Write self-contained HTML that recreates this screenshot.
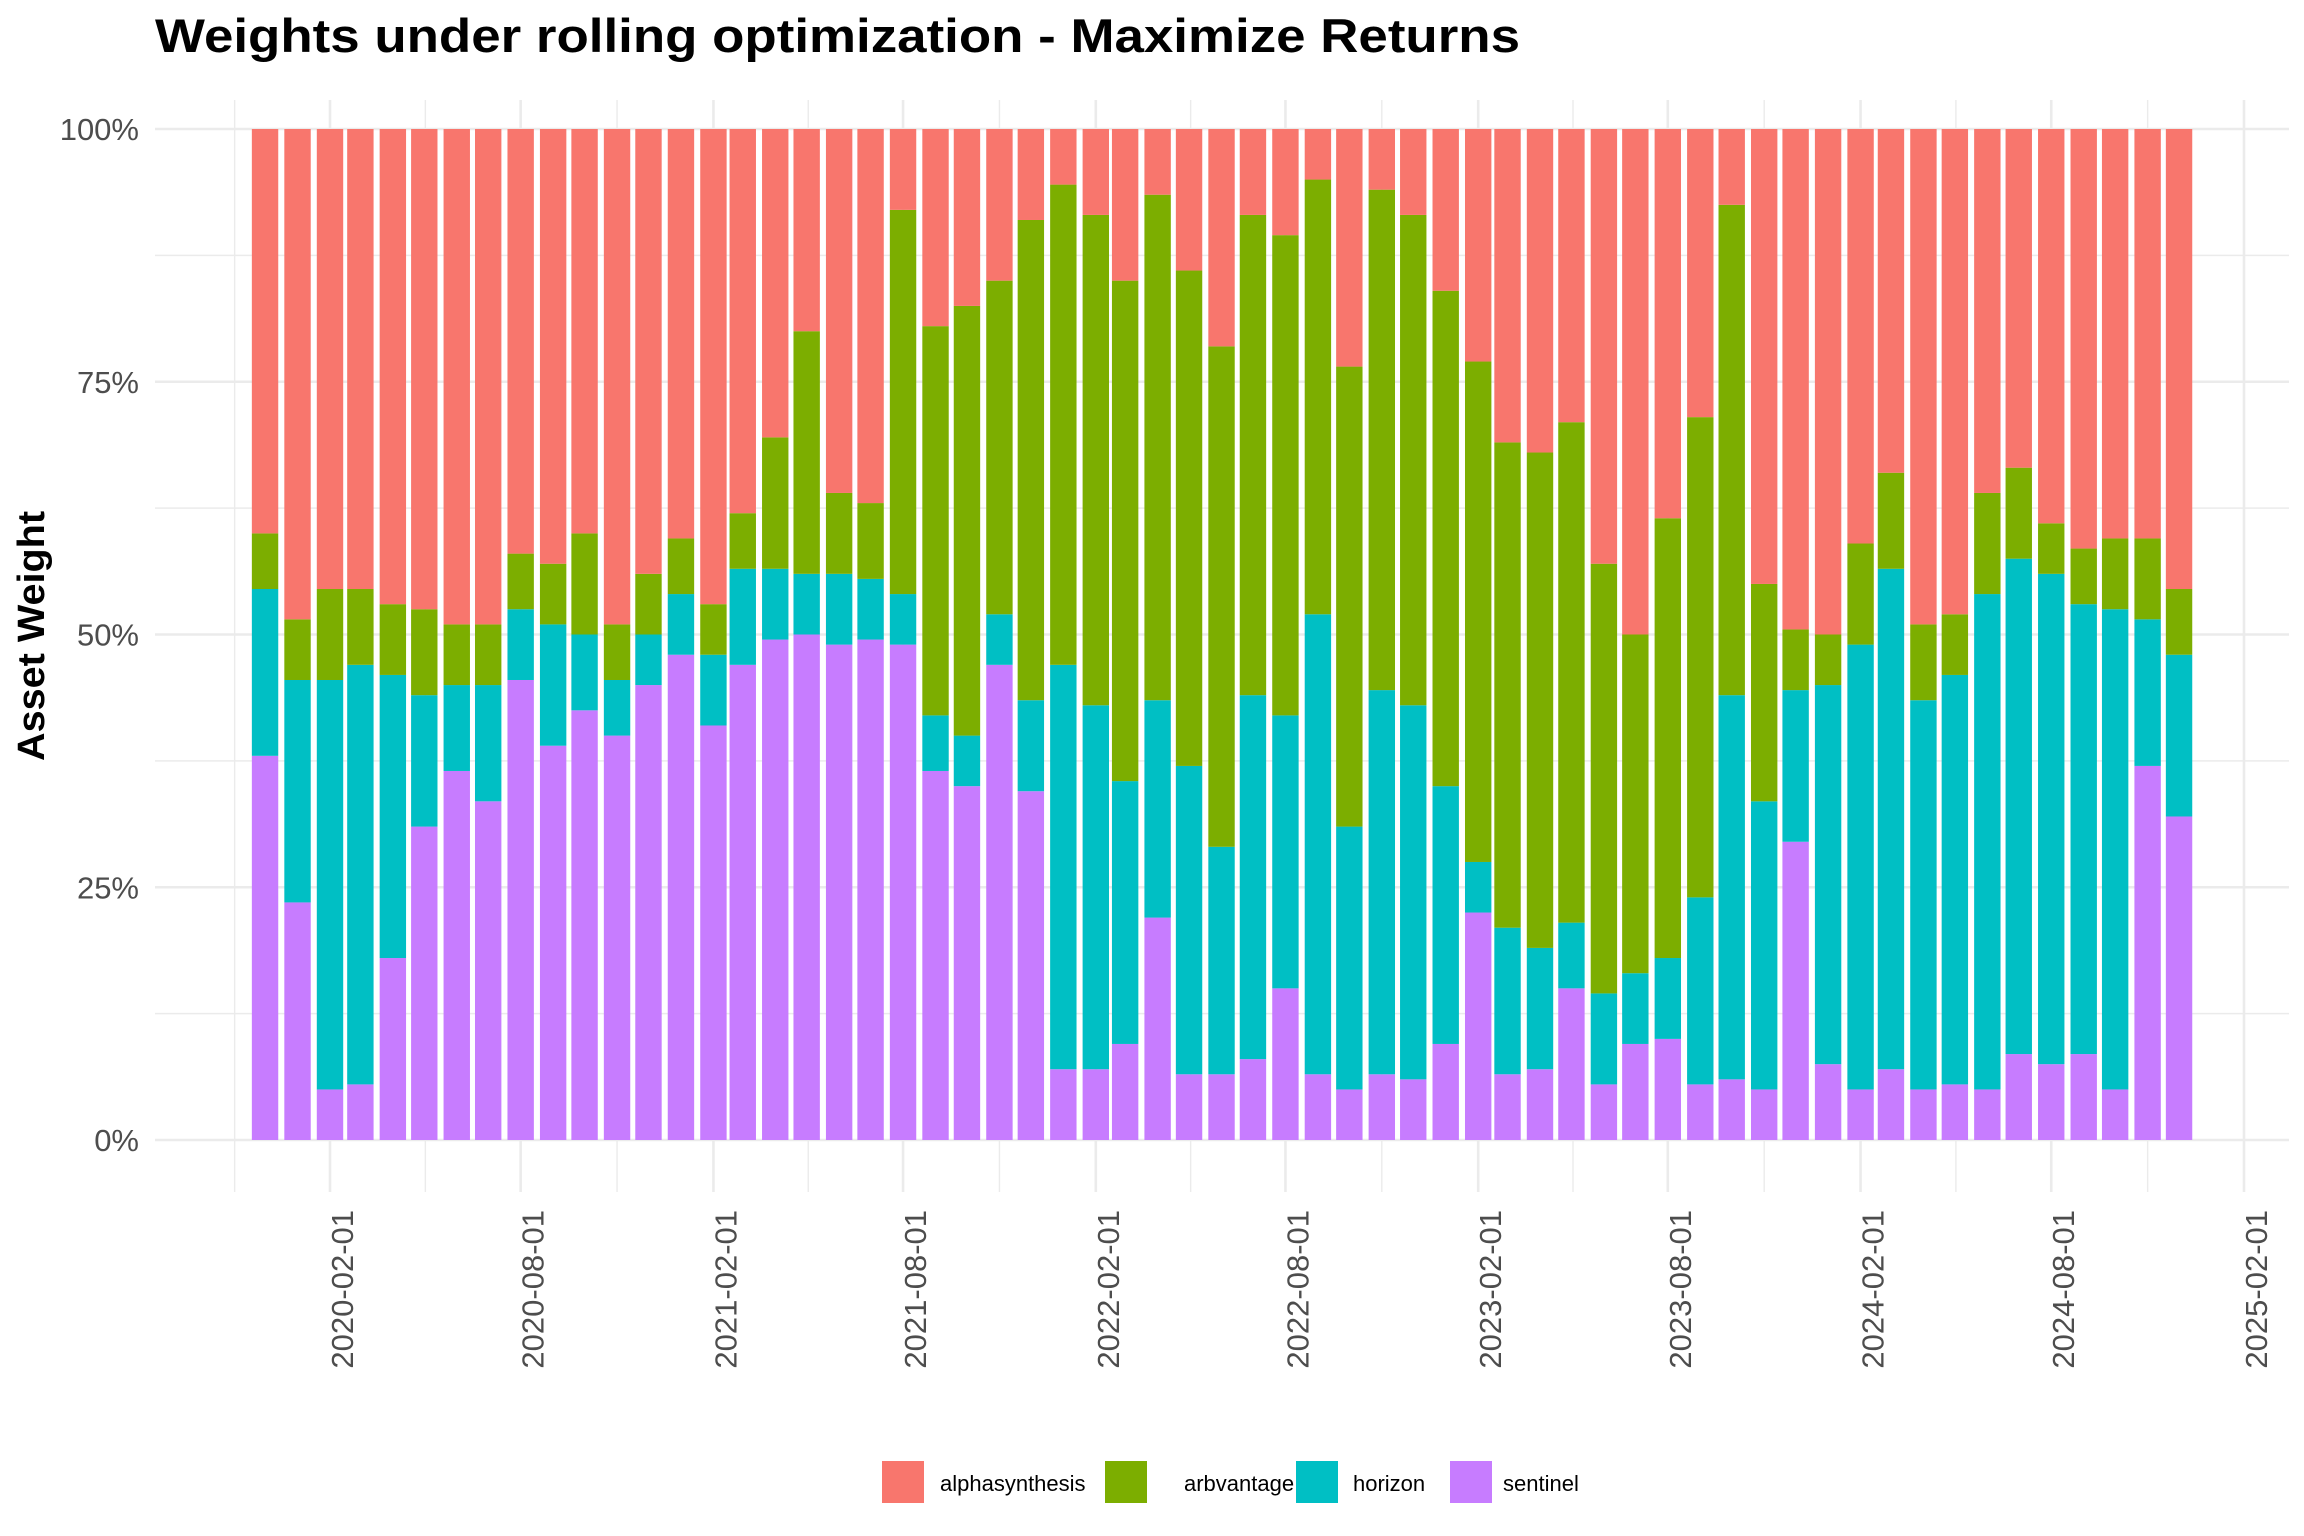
<!DOCTYPE html>
<html><head><meta charset="utf-8"><style>
html,body{margin:0;padding:0;background:#fff;}
svg{display:block;font-family:"Liberation Sans",Arial,sans-serif;}
</style></head><body>
<svg id="chart" width="2304" height="1536" viewBox="0 0 2304 1536" xmlns="http://www.w3.org/2000/svg">
<rect width="2304" height="1536" fill="#fff"/>
<text x="155" y="52" font-size="47" font-weight="bold" fill="#000" textLength="1365" lengthAdjust="spacingAndGlyphs">Weights under rolling optimization - Maximize Returns</text>
<g id="grid"></g>
<g id="bars"></g>
<g id="axes"></g>
<text transform="translate(44,636) rotate(-90)" text-anchor="middle" font-size="38" font-weight="bold" fill="#000" textLength="250" lengthAdjust="spacingAndGlyphs">Asset Weight</text>
<g>
<g><rect x="882" y="1461" width="42" height="42" fill="#F8766D"/><text x="940" y="1491" font-size="22" fill="#000">alphasynthesis</text></g>
<g><rect x="1105" y="1461" width="42" height="42" fill="#7CAE00"/><text x="1184" y="1491" font-size="22" fill="#000">arbvantage</text></g>
<g><rect x="1296" y="1461" width="42" height="42" fill="#00BFC4"/><text x="1353" y="1491" font-size="22" fill="#000">horizon</text></g>
<g><rect x="1450" y="1461" width="42" height="42" fill="#C77CFF"/><text x="1503" y="1491" font-size="22" fill="#000">sentinel</text></g>
</g>
</svg>
<script>
const startMonth = "2019-12";
const sentinel = [38,23.5,5,5.5,18,31,36.5,33.5,45.5,39,42.5,40,45,48,41,47,49.5,50,49,49.5,49,36.5,35,47,34.5,7,7,9.5,22,6.5,6.5,8,15,6.5,5,6.5,6,9.5,22.5,6.5,7,15,5.5,9.5,10,5.5,6,5,29.5,7.5,5,7,5,5.5,5,8.5,7.5,8.5,5,37,32];
const horizon = [16.5,22,40.5,41.5,28,13,8.5,11.5,7,12,7.5,5.5,5,6,7,9.5,7,6,7,6,5,5.5,5,5,9,40,36,26,21.5,30.5,22.5,36,27,45.5,26,38,37,25.5,5,14.5,12,6.5,9,7,8,18.5,38,28.5,15,37.5,44,49.5,38.5,40.5,49,49,48.5,44.5,47.5,14.5,16];
const arbvantage = [5.5,6,9,7.5,7,8.5,6,6,5.5,6,10,5.5,6,5.5,5,5.5,13,24,8,7.5,38,38.5,42.5,33,47.5,47.5,48.5,49.5,50,49,49.5,47.5,47.5,43,45.5,49.5,48.5,49,49.5,48,49,49.5,42.5,33.5,43.5,47.5,48.5,21.5,6,5,10,9.5,7.5,6,10,9,5,5.5,7,8,6.5];
const alphasynthesis = [40,48.5,45.5,45.5,47,47.5,49,49,42,43,40,49,44,40.5,47,38,30.5,20,36,37,8,19.5,17.5,15,9,5.5,8.5,15,6.5,14,21.5,8.5,10.5,5,23.5,6,8.5,16,23,31,32,29,43,50,38.5,28.5,7.5,45,49.5,50,41,34,49,48,36,33.5,39,41.5,40.5,40.5,45.5];
const yTicks = [0,25,50,75,100];
const yTickLabels = ["0%","25%","50%","75%","100%"];
const xTickLabels = ["2020-02-01","2020-08-01","2021-02-01","2021-08-01","2022-02-01","2022-08-01","2023-02-01","2023-08-01","2024-02-01","2024-08-01","2025-02-01"];

const NS="http://www.w3.org/2000/svg";
const plotL=155, plotR=2289, y0=1140, y100=129;
const refDay=Date.UTC(2020,1,1), refX=330, pxDay=(2244-330)/1827;
function xScale(ms){return refX+(ms-refDay)/86400000*pxDay;}
function yScale(v){return y0-(v/100)*(y0-y100);}
function parseDate(s){const p=s.split("-").map(Number);return Date.UTC(p[0],p[1]-1,p[2]||1);}
function mk(tag,attrs,parent){const e=document.createElementNS(NS,tag);for(const k in attrs)e.setAttribute(k,attrs[k]);parent.appendChild(e);return e;}

const grid=document.getElementById("grid"), bars=document.getElementById("bars"), axes=document.getElementById("axes");
for(let v=0;v<=100;v+=12.5){
  const major=(v%25===0);
  const l=mk("line",{x1:plotL,x2:plotR,y1:yScale(v),y2:yScale(v),stroke:"#ebebeb","stroke-width":major?2.6:1.4},grid);
  
  
}
const xt=xTickLabels.map(parseDate);
for(let i=0;i<xt.length;i++){
  const x=xScale(xt[i]);
  const l=mk("line",{x1:x,x2:x,y1:100,y2:1192,stroke:"#ebebeb","stroke-width":2.6},grid);
  
  
  const t=mk("text",{transform:`translate(${x+23},1210) rotate(-90)`,"text-anchor":"end","font-size":"31",fill:"#4d4d4d"},axes);
  t.textContent=xTickLabels[i];
  
  
}
const minors=[];
minors.push(xt[0]-(xt[1]-xt[0])/2);
for(let i=0;i<xt.length-1;i++)minors.push((xt[i]+xt[i+1])/2);
minors.forEach(m=>{
  const x=xScale(m);
  const l=mk("line",{x1:x,x2:x,y1:100,y2:1192,stroke:"#ebebeb","stroke-width":1.4},grid);
  
  
});
yTicks.forEach((v,i)=>{
  const t=mk("text",{x:139,y:yScale(v)+11,"text-anchor":"end","font-size":"31",fill:"#4d4d4d"},axes);
  t.textContent=yTickLabels[i];
  
  
});
const sm=startMonth.split("-").map(Number);
const series=[["sentinel",sentinel,"#C77CFF"],["horizon",horizon,"#00BFC4"],["arbvantage",arbvantage,"#7CAE00"],["alphasynthesis",alphasynthesis,"#F8766D"]];
const bw=26.4;
for(let i=0;i<sentinel.length;i++){
  const d=Date.UTC(sm[0],sm[1]-1+i,1);
  const cx=xScale(d);
  let cum=0;
  const tot=series.reduce((a,s)=>a+s[1][i],0);
  series.forEach(s=>{
    const v=s[1][i]/tot*100;
    const r=mk("rect",{x:cx-bw/2,width:bw,y:yScale(cum+v),height:yScale(cum)-yScale(cum+v),fill:s[2]},bars);
    
    
    cum+=v;
  });
}
</script>
</body></html>
